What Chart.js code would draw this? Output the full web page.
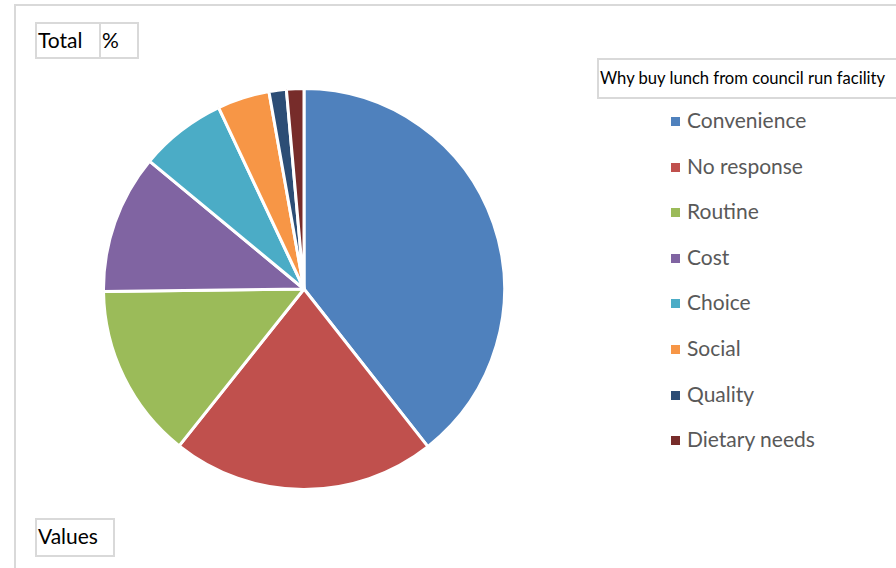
<!DOCTYPE html>
<html lang="en">
<head>
    <meta charset="UTF-8">
    <title>Why buy lunch from council run facility</title>
    <script src="https://cdn.jsdelivr.net/npm/chart.js@4/dist/chart.umd.min.js"></script>
    <style>
        body {
            margin: 0;
            width: 896px;
            height: 568px;
            overflow: hidden;
            background: #fff;
            font-family: Lato, "Open Sans", sans-serif;
            position: relative;
        }
        .frame {
            position: absolute;
            left: 14px;
            top: 4px;
            width: 900px;
            height: 600px;
            border-left: 2px solid #d9d9d9;
            border-top: 2px solid #d9d9d9;
        }
        .btn {
            position: absolute;
            border: 2px solid #d9d9d9;
            box-sizing: border-box;
            color: #000;
            font-size: 21px;
            line-height: 32px;
            padding-left: 1px;
        }
        .pie-wrap {
            position: absolute;
            left: 102px;
            top: 87px;
            width: 404px;
            height: 404px;
        }
        .legend-title {
            position: absolute;
            left: 597px;
            top: 58px;
            width: 302px;
            height: 41px;
            border: 2px solid #d9d9d9;
            box-sizing: border-box;
            font-size: 16.6px;
            line-height: 37px;
            padding-left: 1px;
            white-space: nowrap;
        }
        .legend-item {
            position: absolute;
            left: 671px;
            font-size: 21px;
            color: #595959;
            height: 30px;
            line-height: 30px;
            white-space: nowrap;
        }
        .legend-item span {
            display: inline-block;
            width: 9px;
            height: 9px;
            margin-right: 7px;
            vertical-align: 2px;
        }
    </style>
</head>
<body>
    <div class="frame"></div>
    <div class="btn" style="left:35px; top:22px; width:66px; height:37px;">Total</div>
    <div class="btn" style="left:99px; top:22px; width:40px; height:37px;">%</div>
    <div class="btn" style="left:35px; top:518px; width:80px; height:39px;">Values</div>

    <div class="pie-wrap"><canvas id="pie"></canvas></div>
    <div class="legend-title">Why buy lunch from council run facility</div>
    <div id="legend"></div>

    <script>
        const reasons = ['Convenience', 'No response', 'Routine', 'Cost', 'Choice', 'Social', 'Quality', 'Dietary needs'];
        const percents = [39.4, 21.3, 14.1, 11.2, 7.0, 4.2, 1.4, 1.4];
        const colors = ['#4F81BD', '#C0504D', '#9BBB59', '#8064A2', '#4BACC6', '#F79646', '#2C4D75', '#772C2A'];

        // Legend built from the same arrays
        const legend = document.getElementById('legend');
        reasons.forEach((name, i) => {
            const item = document.createElement('div');
            item.className = 'legend-item';
            item.style.top = (105 + i * 45.6) + 'px';
            item.innerHTML = '<span style="background:' + colors[i] + '"></span>' + name;
            legend.appendChild(item);
        });

        new Chart(document.getElementById('pie'), {
            type: 'pie',
            data: {
                labels: reasons,
                datasets: [{
                    data: percents,
                    backgroundColor: colors,
                    borderColor: '#ffffff',
                    borderWidth: 3,
                    hoverOffset: 0
                }]
            },
            options: {
                responsive: true,
                maintainAspectRatio: false,
                animation: false,
                layout: { padding: 0 },
                plugins: {
                    legend: { display: false },
                    tooltip: { enabled: false }
                }
            }
        });
    </script>
</body>
</html>
